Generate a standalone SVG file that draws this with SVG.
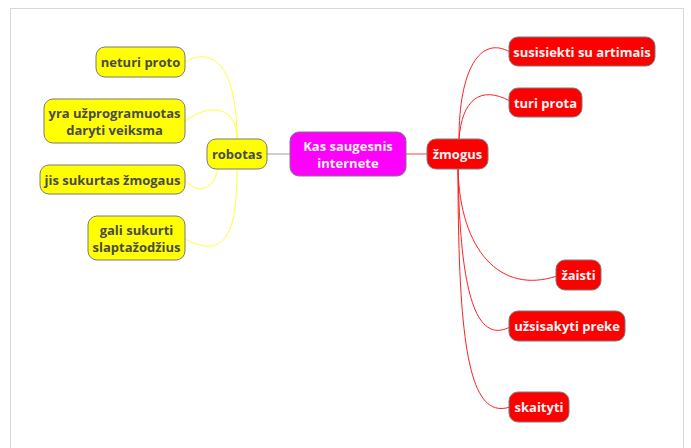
<svg xmlns="http://www.w3.org/2000/svg" width="691" height="448" viewBox="0 0 691 448">
<style>
.n rect{stroke:#7a7a7a;stroke-width:1}
.y rect{fill:#ffff00}
.r rect{fill:#ff0000}
.m rect{fill:#ff00ff}
text{font-family:"Open Sans","Noto Sans","DejaVu Sans",sans-serif;font-weight:bold;font-size:13px;text-anchor:middle;dominant-baseline:central}
.y text{fill:#4a4a4a}
.r text,.m text{fill:#f4f4f4}
.cy{fill:none;stroke:#ffff33;stroke-width:1}
.cr{fill:none;stroke:#ff2020;stroke-width:1}
</style>
<rect x="0" y="0" width="691" height="448" fill="#ffffff"/>
<rect x="10.5" y="8.5" width="673" height="460" fill="#ffffff" stroke="#d8d8d8" stroke-width="1"/>
<g id="connectors">
<line x1="267" y1="154" x2="290" y2="154" stroke="#a0a0a0" stroke-width="1"/>
<line x1="406" y1="154" x2="427" y2="154" stroke="#ff4040" stroke-width="1"/>
<path class="cy" d="M237,139 C237,70 215,45 185,62"/>
<path class="cy" d="M237,139 C237,110 215,100 185,121"/>
<path class="cy" d="M218,169 C212,194 195,192 185,180"/>
<path class="cy" d="M237,169 C237,228 228,262 185,239"/>
<path class="cr" d="M459,139 C459,70 480,35 510,52"/>
<path class="cr" d="M459,139 C462,100 480,85 510,101"/>
<path class="cr" d="M458,169 C460,250 500,295 557,276"/>
<path class="cr" d="M458,169 C460,290 475,345 510,327"/>
<path class="cr" d="M458,169 C458,350 470,420 510,407"/>
</g>
<g id="center" class="n m"><rect x="290" y="132" width="116" height="44" rx="9"/><text x="348" y="146">Kas saugesnis</text><text x="348" y="163">internete</text></g>
<g id="robotas" class="n y"><rect x="207" y="139" width="60" height="30" rx="9"/><text x="237" y="154">robotas</text></g>
<g id="zmogus" class="n r"><rect x="427" y="139" width="61" height="30" rx="9"/><text x="457.5" y="154">žmogus</text></g>
<g id="neturi" class="n y"><rect x="96" y="47" width="89" height="30" rx="9"/><text x="140.5" y="62">neturi proto</text></g>
<g id="yra" class="n y"><rect x="44" y="99" width="141" height="44" rx="9"/><text x="114.5" y="113">yra užprogramuotas</text><text x="114.5" y="130">daryti veiksma</text></g>
<g id="jis" class="n y"><rect x="40" y="165" width="145" height="29" rx="9"/><text x="112.5" y="179.5">jis sukurtas žmogaus</text></g>
<g id="gali" class="n y"><rect x="88" y="216" width="97" height="44" rx="9"/><text x="136.5" y="230">gali sukurti</text><text x="136.5" y="247">slaptažodžius</text></g>
<g id="susisiekti" class="n r"><rect x="509" y="37" width="146" height="29" rx="9"/><text x="582" y="51.5">susisiekti su artimais</text></g>
<g id="turi" class="n r"><rect x="509" y="88" width="73" height="29" rx="9"/><text x="545.5" y="102.5">turi prota</text></g>
<g id="zaisti" class="n r"><rect x="556" y="260" width="45" height="30" rx="9"/><text x="578.5" y="275">žaisti</text></g>
<g id="uzsisakyti" class="n r"><rect x="509" y="311" width="116" height="30" rx="9"/><text x="567" y="326">užsisakyti preke</text></g>
<g id="skaityti" class="n r"><rect x="509" y="392" width="60" height="30" rx="9"/><text x="539" y="407">skaityti</text></g>
</svg>
